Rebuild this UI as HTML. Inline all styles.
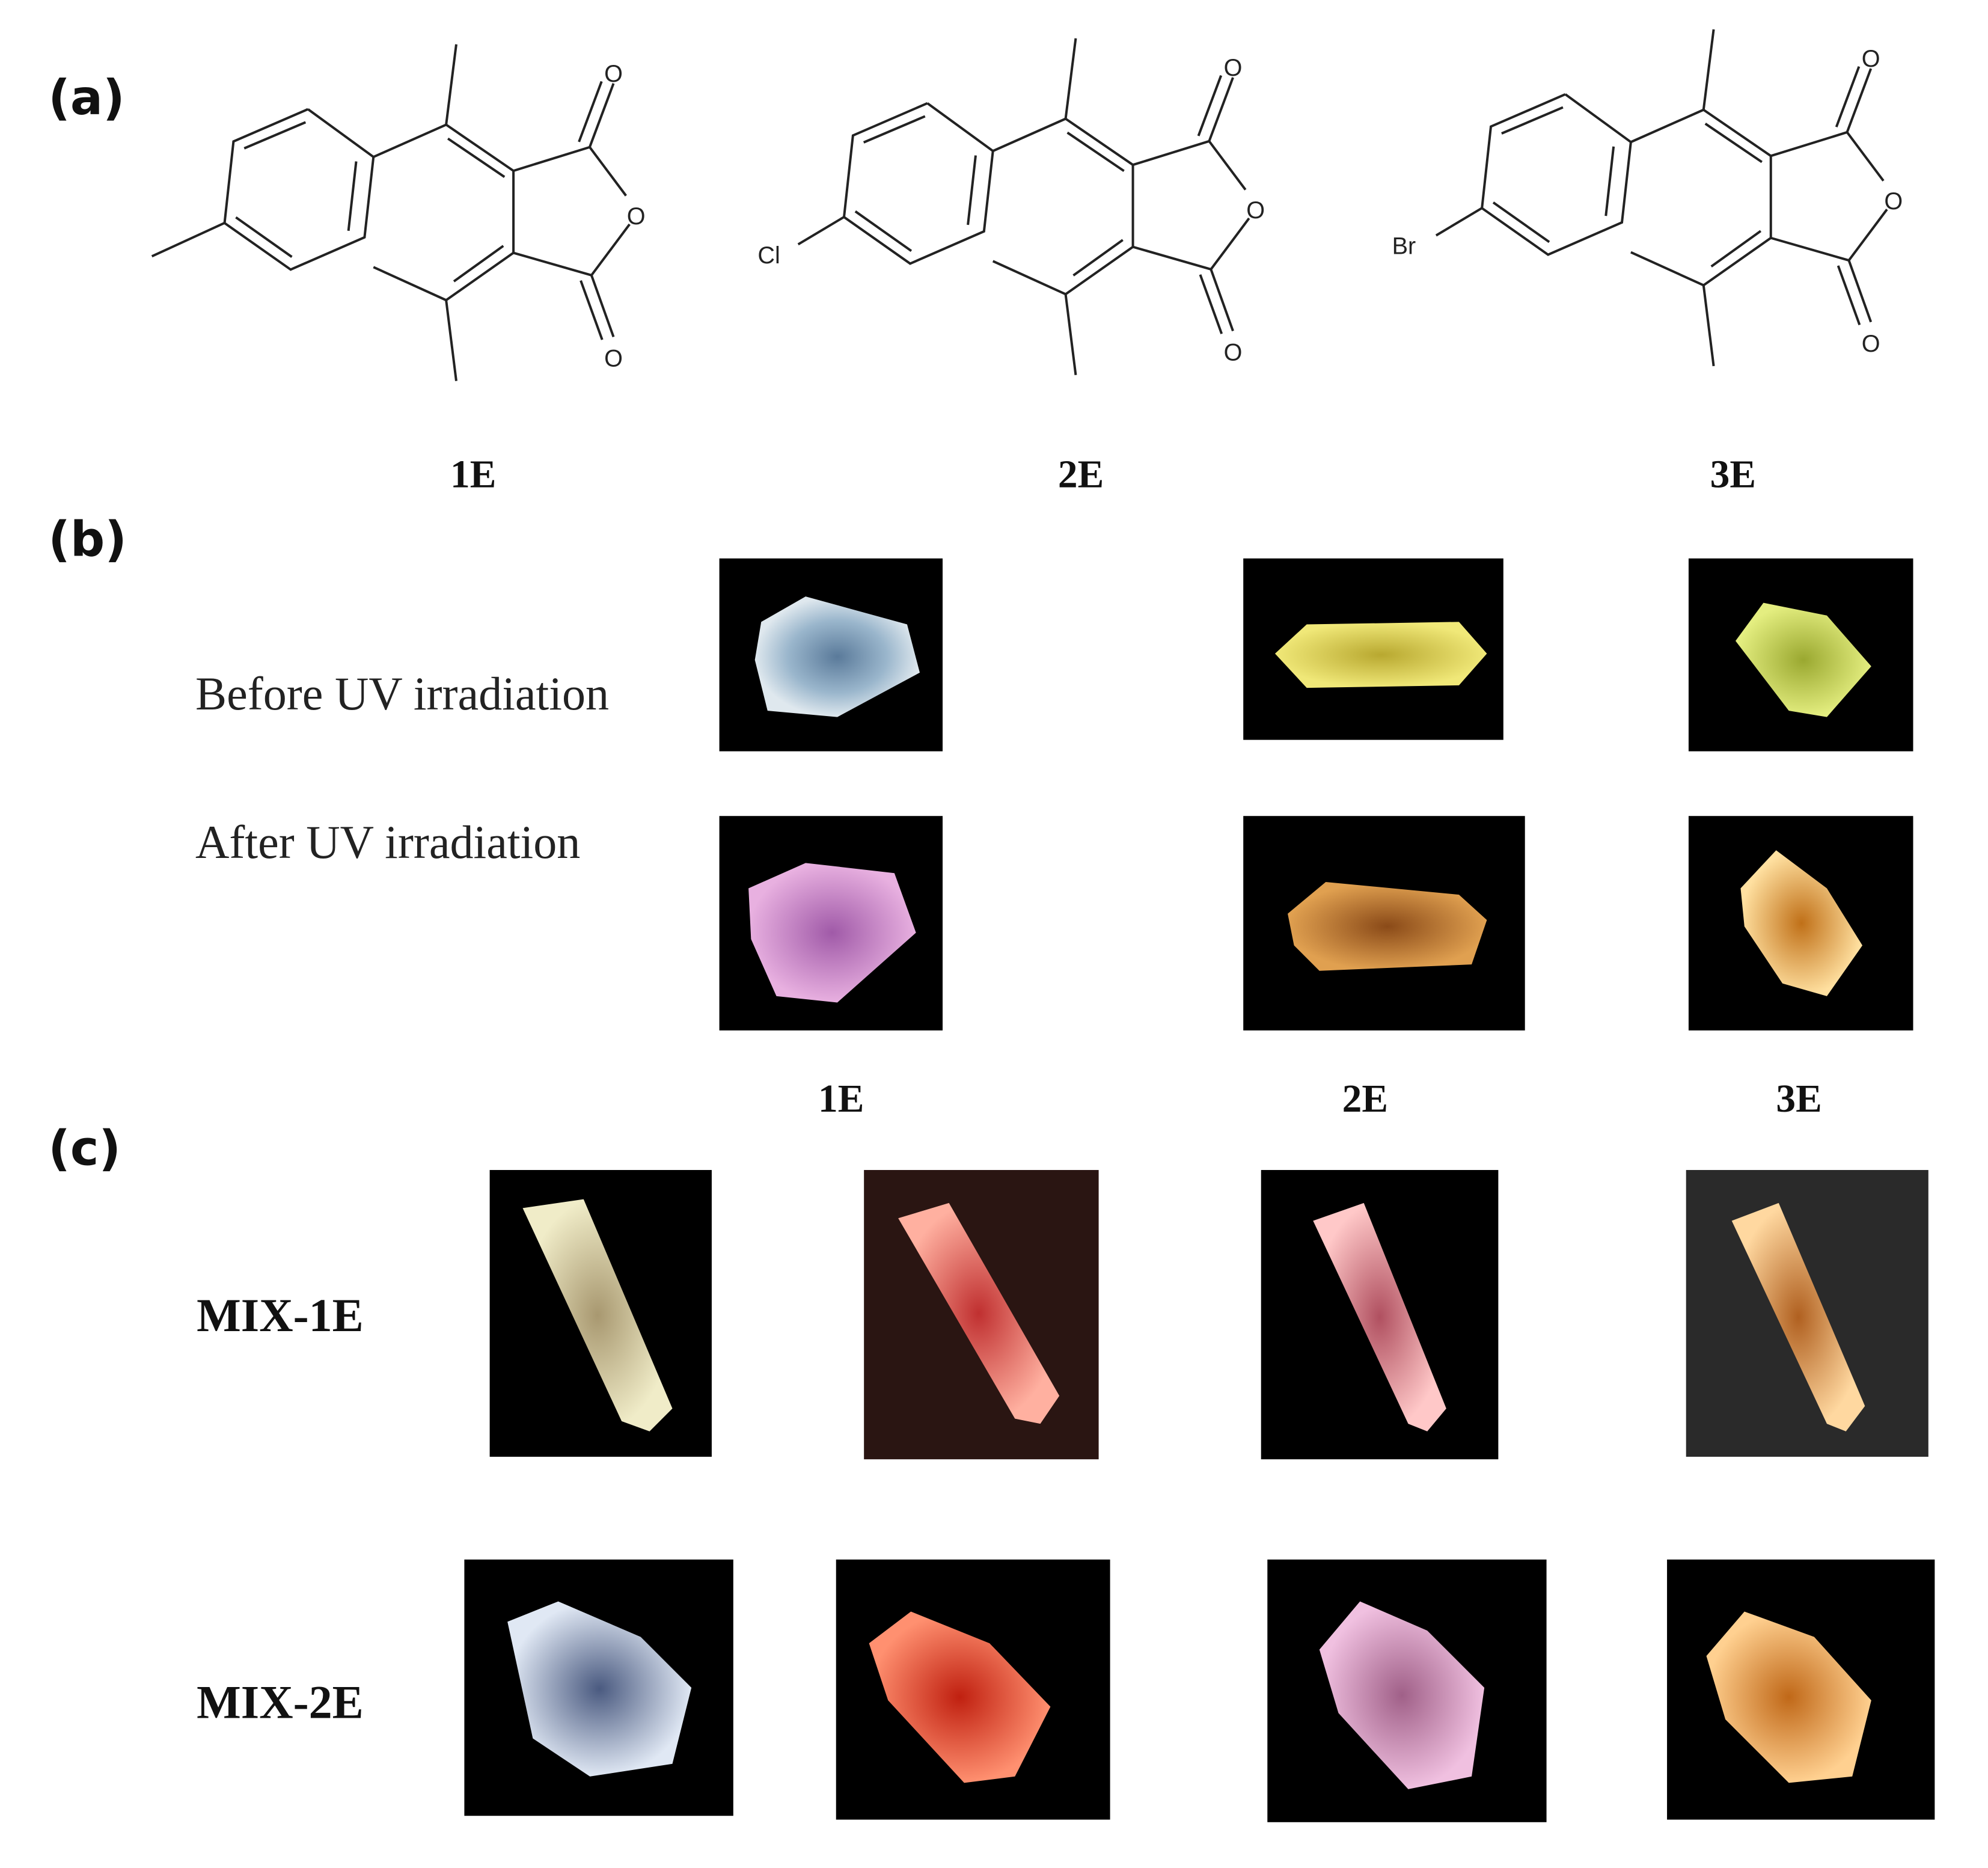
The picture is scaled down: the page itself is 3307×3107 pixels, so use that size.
<!DOCTYPE html>
<html><head><meta charset="utf-8"><style>
html,body{margin:0;padding:0;background:#fff;}
svg{display:block;}
.lab{font-family:"DejaVu Sans","Liberation Sans",sans-serif;font-weight:bold;font-size:38px;fill:#111;}
.bn{font-family:"Liberation Serif",serif;font-weight:bold;font-size:31px;fill:#111;}
.tx{font-family:"Liberation Serif",serif;font-size:37px;fill:#222;}
.mx{font-family:"Liberation Serif",serif;font-weight:bold;font-size:37px;fill:#111;}
.at{font-family:"Liberation Sans",sans-serif;font-size:40px;fill:#222;}
</style></head><body>
<svg width="3307" height="3107" viewBox="0 0 1567 1472" xmlns="http://www.w3.org/2000/svg">
<defs>
<g id="core" stroke="#222" stroke-width="4" fill="none">
<g transform="translate(0,11.8) scale(1,0.685)">
<polyline vector-effect="non-scaling-stroke" points="517,250 627,367 612,564 488,643 377,529 392,329 517,250"/>
<line vector-effect="non-scaling-stroke" x1="513" y1="282" x2="410" y2="346"/>
<line vector-effect="non-scaling-stroke" x1="598" y1="378" x2="585" y2="548"/>
<line vector-effect="non-scaling-stroke" x1="396" y1="515" x2="490" y2="612"/>
<line vector-effect="non-scaling-stroke" x1="627" y1="367" x2="749" y2="288"/>
<line vector-effect="non-scaling-stroke" x1="749" y1="288" x2="766" y2="91"/>
<line vector-effect="non-scaling-stroke" x1="749" y1="288" x2="862" y2="401"/>
<line vector-effect="non-scaling-stroke" x1="752" y1="322" x2="847" y2="416"/>
<line vector-effect="non-scaling-stroke" x1="862" y1="401" x2="862" y2="602"/>
<line vector-effect="non-scaling-stroke" x1="862" y1="401" x2="990" y2="343"/>
<line vector-effect="non-scaling-stroke" x1="990" y1="343" x2="1030" y2="187"/>
<line vector-effect="non-scaling-stroke" x1="972" y1="330" x2="1010" y2="182"/>
<line vector-effect="non-scaling-stroke" x1="990" y1="343" x2="1051" y2="462"/>
<line vector-effect="non-scaling-stroke" x1="1057" y1="532" x2="993" y2="657"/>
<line vector-effect="non-scaling-stroke" x1="862" y1="602" x2="993" y2="657"/>
<line vector-effect="non-scaling-stroke" x1="993" y1="657" x2="1030" y2="808"/>
<line vector-effect="non-scaling-stroke" x1="975" y1="670" x2="1011" y2="815"/>
<line vector-effect="non-scaling-stroke" x1="862" y1="602" x2="749" y2="718"/>
<line vector-effect="non-scaling-stroke" x1="845" y1="585" x2="762" y2="672"/>
<line vector-effect="non-scaling-stroke" x1="749" y1="718" x2="627" y2="637"/>
<line vector-effect="non-scaling-stroke" x1="749" y1="718" x2="766" y2="916"/>
</g>
</g>
<g id="os" class="at" text-anchor="middle">
<text x="1030" y="137">O</text>
<text x="1068" y="376">O</text>
<text x="1030" y="615">O</text>
</g>
<radialGradient id="g1"><stop offset="0" stop-color="#5a7a9a"/><stop offset="0.6" stop-color="#9ab6cc"/><stop offset="1" stop-color="#dfe8ee"/></radialGradient>
<radialGradient id="g2"><stop offset="0" stop-color="#b8a830"/><stop offset="1" stop-color="#f0e878"/></radialGradient>
<radialGradient id="g3"><stop offset="0" stop-color="#9aa830"/><stop offset="1" stop-color="#e4ee80"/></radialGradient>
<radialGradient id="g4"><stop offset="0" stop-color="#a05aa8"/><stop offset="1" stop-color="#e8b0e0"/></radialGradient>
<radialGradient id="g5"><stop offset="0" stop-color="#8a4a18"/><stop offset="1" stop-color="#e0a050"/></radialGradient>
<radialGradient id="g6"><stop offset="0" stop-color="#c07018"/><stop offset="1" stop-color="#ffe0a0"/></radialGradient>
<radialGradient id="g7"><stop offset="0" stop-color="#a89870"/><stop offset="1" stop-color="#f0ecc8"/></radialGradient>
<radialGradient id="g8"><stop offset="0" stop-color="#c03030"/><stop offset="1" stop-color="#ffb0a0"/></radialGradient>
<radialGradient id="g9"><stop offset="0" stop-color="#b05060"/><stop offset="1" stop-color="#ffc8c8"/></radialGradient>
<radialGradient id="g10"><stop offset="0" stop-color="#b06020"/><stop offset="1" stop-color="#ffd8a0"/></radialGradient>
<radialGradient id="g11"><stop offset="0" stop-color="#4a5a80"/><stop offset="1" stop-color="#e0e8f4"/></radialGradient>
<radialGradient id="g12"><stop offset="0" stop-color="#c02010"/><stop offset="1" stop-color="#ff9070"/></radialGradient>
<radialGradient id="g13"><stop offset="0" stop-color="#a06088"/><stop offset="1" stop-color="#f0c0e0"/></radialGradient>
<radialGradient id="g14"><stop offset="0" stop-color="#c06818"/><stop offset="1" stop-color="#ffd090"/></radialGradient>
</defs>

<text class="lab" x="38" y="90">(a)</text>
<text class="lab" x="38" y="438">(b)</text>
<text class="lab" x="38" y="918">(c)</text>

<g transform="scale(0.4695)">
  <use href="#core"/><use href="#os"/>
  <line x1="377" y1="374" x2="255" y2="430" stroke="#222" stroke-width="4"/>
  <g transform="translate(1040,-10)">
    <use href="#core"/><use href="#os"/>
    <line x1="377" y1="374" x2="300" y2="420" stroke="#222" stroke-width="4"/>
    <text class="at" x="232" y="452">Cl</text>
  </g>
  <g transform="translate(2111,-25)">
    <use href="#core"/><use href="#os"/>
    <line x1="377" y1="374" x2="300" y2="420" stroke="#222" stroke-width="4"/>
    <text class="at" x="226" y="451">Br</text>
  </g>
</g>

<text class="bn" x="373" y="384" text-anchor="middle">1E</text>
<text class="bn" x="852" y="384" text-anchor="middle">2E</text>
<text class="bn" x="1366" y="384" text-anchor="middle">3E</text>

<text class="tx" x="154" y="559">Before UV irradiation</text>
<text class="tx" x="154" y="676">After UV irradiation</text>

<!-- b row 1 -->
<rect x="567" y="440" width="176" height="152" fill="#000"/>
<polygon points="600,490 635,470 715,492 725,530 660,565 605,560 595,520" fill="url(#g1)"/>
<rect x="980" y="440" width="205" height="143" fill="#000"/>
<polygon points="1005,515 1030,492 1150,490 1172,515 1150,540 1030,542" fill="url(#g2)"/>
<rect x="1331" y="440" width="177" height="152" fill="#000"/>
<polygon points="1368,505 1390,475 1440,485 1475,525 1440,565 1410,560" fill="url(#g3)"/>
<!-- b row 2 -->
<rect x="567" y="643" width="176" height="169" fill="#000"/>
<polygon points="590,700 635,680 705,688 722,735 660,790 612,785 592,740" fill="url(#g4)"/>
<rect x="980" y="643" width="222" height="169" fill="#000"/>
<polygon points="1015,720 1045,695 1150,705 1172,725 1160,760 1040,765 1020,745" fill="url(#g5)"/>
<rect x="1331" y="643" width="177" height="169" fill="#000"/>
<polygon points="1372,700 1400,670 1440,700 1468,745 1440,785 1405,775 1375,730" fill="url(#g6)"/>

<text class="bn" x="663" y="876" text-anchor="middle">1E</text>
<text class="bn" x="1076" y="876" text-anchor="middle">2E</text>
<text class="bn" x="1418" y="876" text-anchor="middle">3E</text>

<text class="mx" x="155" y="1049">MIX-1E</text>
<text class="mx" x="155" y="1354">MIX-2E</text>

<!-- c row 1 -->
<rect x="386" y="922" width="175" height="226" fill="#000"/>
<polygon points="412,952 460,945 530,1110 512,1128 490,1120" fill="url(#g7)"/>
<rect x="681" y="922" width="185" height="228" fill="#2a1512"/>
<polygon points="708,960 748,948 835,1100 820,1122 800,1118" fill="url(#g8)"/>
<rect x="994" y="922" width="187" height="228" fill="#000"/>
<polygon points="1035,962 1075,948 1140,1110 1125,1128 1110,1122" fill="url(#g9)"/>
<rect x="1329" y="922" width="191" height="226" fill="#2a2a2a"/>
<polygon points="1365,962 1402,948 1470,1108 1455,1128 1440,1122" fill="url(#g10)"/>
<!-- c row 2 -->
<rect x="366" y="1229" width="212" height="202" fill="#000"/>
<polygon points="400,1278 440,1262 505,1290 545,1330 530,1390 465,1400 420,1370" fill="url(#g11)"/>
<rect x="659" y="1229" width="216" height="205" fill="#000"/>
<polygon points="685,1295 718,1270 780,1295 828,1345 800,1400 760,1405 700,1340" fill="url(#g12)"/>
<rect x="999" y="1229" width="220" height="207" fill="#000"/>
<polygon points="1040,1300 1072,1262 1125,1285 1170,1330 1160,1400 1110,1410 1055,1350" fill="url(#g13)"/>
<rect x="1314" y="1229" width="211" height="205" fill="#000"/>
<polygon points="1345,1305 1375,1270 1430,1290 1475,1340 1460,1400 1410,1405 1360,1355" fill="url(#g14)"/>
</svg>
</body></html>
